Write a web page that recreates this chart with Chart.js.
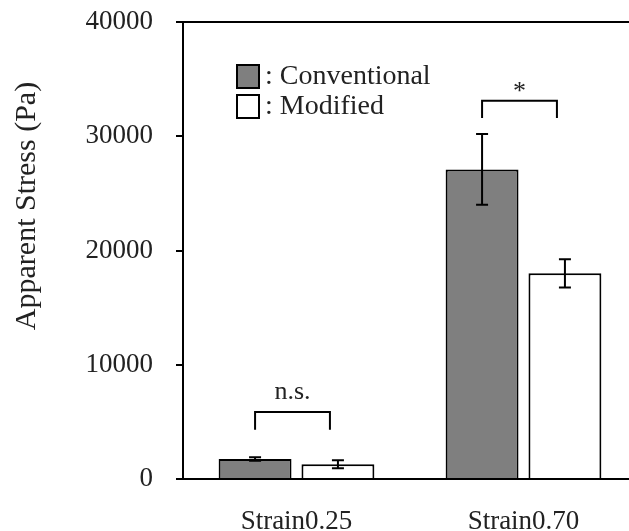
<!DOCTYPE html>
<html>
<head>
<meta charset="utf-8">
<script src="https://cdn.jsdelivr.net/npm/chart.js@4"></script>
<style>
  html, body { margin: 0; padding: 0; background: #fff; overflow: hidden; }
  #wrap { width: 629px; height: 531px; overflow: hidden; }
</style>
</head>
<body>
<div id="wrap"><canvas id="stressChart" width="640" height="531"></canvas></div>
<script>
// valores
const categorias = ['Strain0.25', 'Strain0.70'];
const convencional = [1750, 27100];
const convencionalErro = [150, 3100];
const modificado = [1300, 18000];
const modificadoErro = [350, 1230];
const ticksY = [0, 10000, 20000, 30000, 40000];
const sigTexto = ['n.s.', '*'];
const sigTopo = [5860, 33100];
const sigBase = [4300, 31600];

const fonte = '"Liberation Serif", "Times New Roman", serif';

// barras de erro
const barrasErro = {
    id: 'barrasErro',
    afterDatasetsDraw(chart) {
        const ctx = chart.ctx;
        const y = chart.scales.y;
        const erros = [convencionalErro, modificadoErro];
        ctx.save();
        ctx.strokeStyle = '#000';
        ctx.lineWidth = 2;
        chart.data.datasets.forEach((ds, d) => {
            chart.getDatasetMeta(d).data.forEach((bar, i) => {
                const v = ds.data[i];
                const e = erros[d][i];
                const y1 = y.getPixelForValue(v + e);
                const y2 = y.getPixelForValue(v - e);
                ctx.beginPath();
                ctx.moveTo(bar.x, y1); ctx.lineTo(bar.x, y2);
                ctx.moveTo(bar.x - 6, y1); ctx.lineTo(bar.x + 6, y1);
                ctx.moveTo(bar.x - 6, y2); ctx.lineTo(bar.x + 6, y2);
                ctx.stroke();
            });
        });
        ctx.restore();
    }
};

// colchetes de significância
const significancia = {
    id: 'significancia',
    afterDatasetsDraw(chart) {
        const ctx = chart.ctx;
        const y = chart.scales.y;
        const m0 = chart.getDatasetMeta(0).data;
        const m1 = chart.getDatasetMeta(1).data;
        ctx.save();
        ctx.strokeStyle = '#000';
        ctx.lineWidth = 2;
        ctx.fillStyle = '#222';
        ctx.font = '26px ' + fonte;
        ctx.textAlign = 'center';
        ctx.textBaseline = 'bottom';
        categorias.forEach((c, i) => {
            const xa = m0[i].x;
            const xb = m1[i].x - 8;
            const yt = y.getPixelForValue(sigTopo[i]);
            const yb = y.getPixelForValue(sigBase[i]);
            ctx.beginPath();
            ctx.moveTo(xa, yb); ctx.lineTo(xa, yt); ctx.lineTo(xb, yt); ctx.lineTo(xb, yb);
            ctx.stroke();
            // o asterisco fica alto na fonte, desce um pouco
            const dy = sigTexto[i] === '*' ? 4 : -7;
            ctx.fillText(sigTexto[i], (xa + xb) / 2, yt + dy);
        });
        ctx.restore();
    }
};

// legenda, linha superior e título do eixo
const extras = {
    id: 'extras',
    afterDraw(chart) {
        const ctx = chart.ctx;
        const a = chart.chartArea;
        ctx.save();
        ctx.strokeStyle = '#000';
        ctx.lineWidth = 2;
        ctx.beginPath();
        ctx.moveTo(a.left, a.top);
        ctx.lineTo(a.right, a.top);
        ctx.stroke();

        const lx = a.left + 54;
        const itens = [['#7f7f7f', ': Conventional'], ['#ffffff', ': Modified']];
        ctx.font = '28px ' + fonte;
        ctx.textBaseline = 'middle';
        ctx.textAlign = 'left';
        itens.forEach((it, k) => {
            const ly = 65 + k * 30;
            ctx.fillStyle = it[0];
            ctx.fillRect(lx, ly, 22, 23);
            ctx.strokeRect(lx, ly, 22, 23);
            ctx.fillStyle = '#222';
            ctx.fillText(it[1], lx + 28, ly + 12);
        });

        ctx.translate(27, 206);
        ctx.rotate(-Math.PI / 2);
        ctx.textAlign = 'center';
        ctx.font = '30px ' + fonte;
        ctx.fillStyle = '#222';
        ctx.fillText('Apparent Stress (Pa)', 0, 0);
        ctx.restore();
    }
};

const ctx = document.getElementById('stressChart').getContext('2d');
const stressChart = new Chart(ctx, {
    type: 'bar',
    data: {
        labels: categorias,
        datasets: [{
            label: 'Conventional',
            data: convencional,
            backgroundColor: '#7f7f7f',
            borderColor: '#000',
            borderWidth: 2,
            borderSkipped: 'bottom'
        }, {
            label: 'Modified',
            data: modificado,
            backgroundColor: '#ffffff',
            borderColor: '#000',
            borderWidth: 2,
            borderSkipped: 'bottom'
        }]
    },
    options: {
        responsive: false,
        animation: false,
        devicePixelRatio: 1,
        categoryPercentage: 0.73,
        barPercentage: 0.88,
        layout: { padding: { top: 22, right: 3, left: 0, bottom: 0 } },
        plugins: { legend: { display: false }, tooltip: { enabled: false } },
        scales: {
            x: {
                grid: { display: false },
                border: { color: '#000', width: 2 },
                ticks: { color: '#222', padding: 19, font: { family: fonte, size: 27 } },
                afterFit(s) { s.height = 52; }
            },
            y: {
                min: 0,
                max: 40000,
                afterBuildTicks(s) { s.ticks = ticksY.map(v => ({ value: v })); },
                grid: { drawOnChartArea: false, color: '#000', lineWidth: 2, tickLength: 7 },
                border: { color: '#000', width: 2 },
                ticks: {
                    color: '#222', padding: 23, font: { family: fonte, size: 27 },
                    callback: v => String(v)
                },
                afterFit(s) { s.width = 183; s.paddingTop = 0; s.paddingBottom = 0; }
            }
        }
    },
    plugins: [barrasErro, significancia, extras]
});
</script>
</body>
</html>
